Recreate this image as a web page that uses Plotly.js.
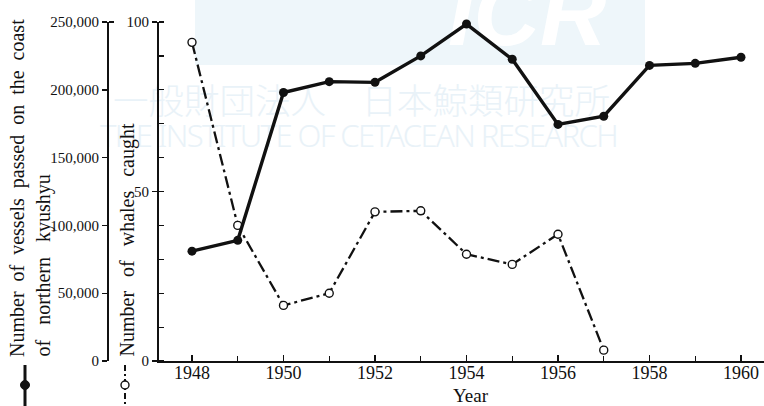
<!DOCTYPE html>
<html>
<head>
<meta charset="utf-8">
<script src="https://cdn.plot.ly/plotly-3.0.1.min.js"></script>
<style>
  html, body { margin: 0; padding: 0; background: #ffffff; }
  #wrap { position: relative; width: 764px; height: 406px; overflow: hidden; background: #ffffff; }
  #wm { position: absolute; left: 0; top: 0; width: 764px; height: 406px; }
  #wm .band { position: absolute; left: 195px; top: 0; width: 450px; height: 65px; background: #eef6fa; }
  #wm .icr { position: absolute; left: 448px; top: -33px; font: italic bold 92px "Liberation Sans", Arial, sans-serif; color: #ffffff; line-height: 92px; }
  #wm .jp { position: absolute; left: 113px; top: 81px; font-family: "Noto Sans CJK JP", sans-serif; font-weight: 300; font-size: 35.5px; line-height: 36px; color: #e9f2f8; white-space: nowrap; }
  #wm .en { position: absolute; left: 100px; top: 118px; font-family: "Noto Sans", sans-serif; font-weight: 300; font-size: 31px; line-height: 34px; color: #e9f2f8; white-space: nowrap; letter-spacing: -1.6px; }
  #chart { position: absolute; left: 0; top: 0; width: 764px; height: 406px; }
</style>
</head>
<body>
<div id="wrap">
  <div id="wm">
    <div class="band"></div>
    <div class="icr">ICR</div>
    <div class="jp">一般財団法人　日本鯨類研究所</div>
    <div class="en">THE INSTITUTE OF CETACEAN RESEARCH</div>
  </div>
  <div id="chart"></div>
</div>
<script>
// ---- data ----
var years = [1948, 1949, 1950, 1951, 1952, 1953, 1954, 1955, 1956, 1957, 1958, 1959, 1960];
var vessels = [81000, 89000, 198000, 206000, 205500, 225000, 248500, 222500, 174500, 180500, 218000, 219500, 224000];
var whaleYears = [1948, 1949, 1950, 1951, 1952, 1953, 1954, 1955, 1956, 1957];
var whales = [94, 40, 16.4, 20, 44, 44.3, 31.5, 28.5, 37.4, 3.2];
var xTickYears = [1948, 1950, 1952, 1954, 1956, 1958, 1960];
var xMinorYears = [1949, 1951, 1953, 1955, 1957, 1959];
var vesselTicks = [0, 50000, 100000, 150000, 200000, 250000];
var whaleTicks = [0, 50, 100];
var vesselTitle1 = "Number\u00a0 of\u00a0 vessels\u00a0 passed\u00a0 on\u00a0 the\u00a0 coast";
var vesselTitle2 = "of\u00a0\u00a0 northern\u00a0\u00a0 kyushyu";
var whaleTitle = "Number\u00a0\u2009 of\u00a0\u2009 whales\u00a0\u2009 caught";
var xTitle = "Year";

var W = 764, H = 406, T = 22, B = 45;
var PH = H - T - B;
function px(x) { return x / W; }
function py(y) { return (H - B - y) / PH; }

var serif = "Liberation Serif, Times New Roman, serif";

var traces = [
  {
    x: years, y: vessels, yaxis: "y2", type: "scatter", mode: "lines+markers",
    line: { color: "#111111", width: 3.4 },
    marker: { color: "#111111", size: 9 },
    cliponaxis: false, showlegend: false, hoverinfo: "skip"
  },
  {
    x: whaleYears, y: whales, yaxis: "y", type: "scatter", mode: "lines+markers",
    line: { color: "#111111", width: 2.3, dash: "12px,4px,3px,4px" },
    marker: { symbol: "circle", color: "#ffffff", size: 8, line: { color: "#111111", width: 1.4 } },
    cliponaxis: false, showlegend: false, hoverinfo: "skip"
  }
];

var layout = {
  width: W, height: H,
  margin: { l: 0, r: 0, t: T, b: B, pad: 0 },
  paper_bgcolor: "rgba(0,0,0,0)",
  plot_bgcolor: "rgba(0,0,0,0)",
  font: { family: serif, color: "#111111" },
  showlegend: false,
  xaxis: {
    domain: [159 / W, 1],
    range: [1947.279, 1960.503],
    anchor: "y",
    tickmode: "array", tickvals: xTickYears,
    ticks: "inside", ticklen: 6, tickwidth: 1.4, tickcolor: "#111111",
    minor: { tickmode: "array", tickvals: xMinorYears, ticks: "inside", ticklen: 5, tickwidth: 1.2, tickcolor: "#111111" },
    showline: true, linewidth: 2.4, linecolor: "#111111",
    showgrid: false, zeroline: false,
    ticklabelstandoff: -6,
    tickfont: { family: serif, size: 18, color: "#111111" },
    automargin: false
  },
  yaxis: {
    domain: [0, 1],
    range: [0, 100],
    anchor: "x",
    tickmode: "array", tickvals: whaleTicks,
    ticks: "outside", ticklen: 5, tickwidth: 1.4, tickcolor: "#111111",
    minor: { dtick: 10, tick0: 0, ticks: "inside", ticklen: 5, tickwidth: 1.2, tickcolor: "#111111" },
    showline: true, linewidth: 2, linecolor: "#111111",
    showgrid: false, zeroline: false,
    tickfont: { family: serif, size: 15, color: "#111111" },
    automargin: false
  },
  yaxis2: {
    overlaying: "y",
    anchor: "free",
    position: 108 / W,
    side: "left",
    range: [0, 250000],
    tickmode: "array", tickvals: vesselTicks, tickformat: ",d",
    ticks: "outside", ticklen: 5, tickwidth: 1.4, tickcolor: "#111111",
    minor: { tickmode: "array", tickvals: [250000], ticks: "inside", ticklen: 5, tickwidth: 1.2, tickcolor: "#111111" },
    showline: true, linewidth: 2, linecolor: "#111111",
    showgrid: false, zeroline: false,
    tickfont: { family: serif, size: 15, color: "#111111" },
    automargin: false
  },
  annotations: [
    {
      text: vesselTitle1, xref: "paper", yref: "paper",
      x: px(17), y: py(359), xanchor: "center", yanchor: "bottom",
      textangle: -90, showarrow: false,
      font: { family: serif, size: 20, color: "#111111" }
    },
    {
      text: vesselTitle2, xref: "paper", yref: "paper",
      x: px(42.5), y: py(359), xanchor: "center", yanchor: "bottom",
      textangle: -90, showarrow: false,
      font: { family: serif, size: 20, color: "#111111" }
    },
    {
      text: whaleTitle, xref: "paper", yref: "paper",
      x: px(126.5), y: py(359), xanchor: "center", yanchor: "bottom",
      textangle: -90, showarrow: false,
      font: { family: serif, size: 20, color: "#111111" }
    },
    {
      text: xTitle, xref: "paper", yref: "paper",
      x: px(471), y: py(395), xanchor: "center", yanchor: "middle",
      showarrow: false,
      font: { family: serif, size: 19, color: "#111111" }
    }
  ],
  shapes: [
    // legend glyph: vessels (solid line with filled dot)
    { type: "line", xref: "paper", yref: "paper", x0: px(25), x1: px(25), y0: py(365), y1: py(406),
      line: { color: "#111111", width: 3 } },
    { type: "circle", xref: "paper", yref: "paper", x0: px(20.5), x1: px(29.5), y0: py(380.5), y1: py(389.5),
      fillcolor: "#111111", line: { color: "#111111", width: 1 } },
    // legend glyph: whales (dash-dot line with open dot)
    { type: "line", xref: "paper", yref: "paper", x0: px(125), x1: px(125), y0: py(365), y1: py(406),
      line: { color: "#111111", width: 2, dash: "6px,3px,2px,3px" } },
    { type: "circle", xref: "paper", yref: "paper", x0: px(121), x1: px(129), y0: py(381), y1: py(389),
      fillcolor: "#ffffff", line: { color: "#111111", width: 1.4 } }
  ]
};

Plotly.newPlot("chart", traces, layout, { staticPlot: true, displayModeBar: false });
</script>
</body>
</html>
